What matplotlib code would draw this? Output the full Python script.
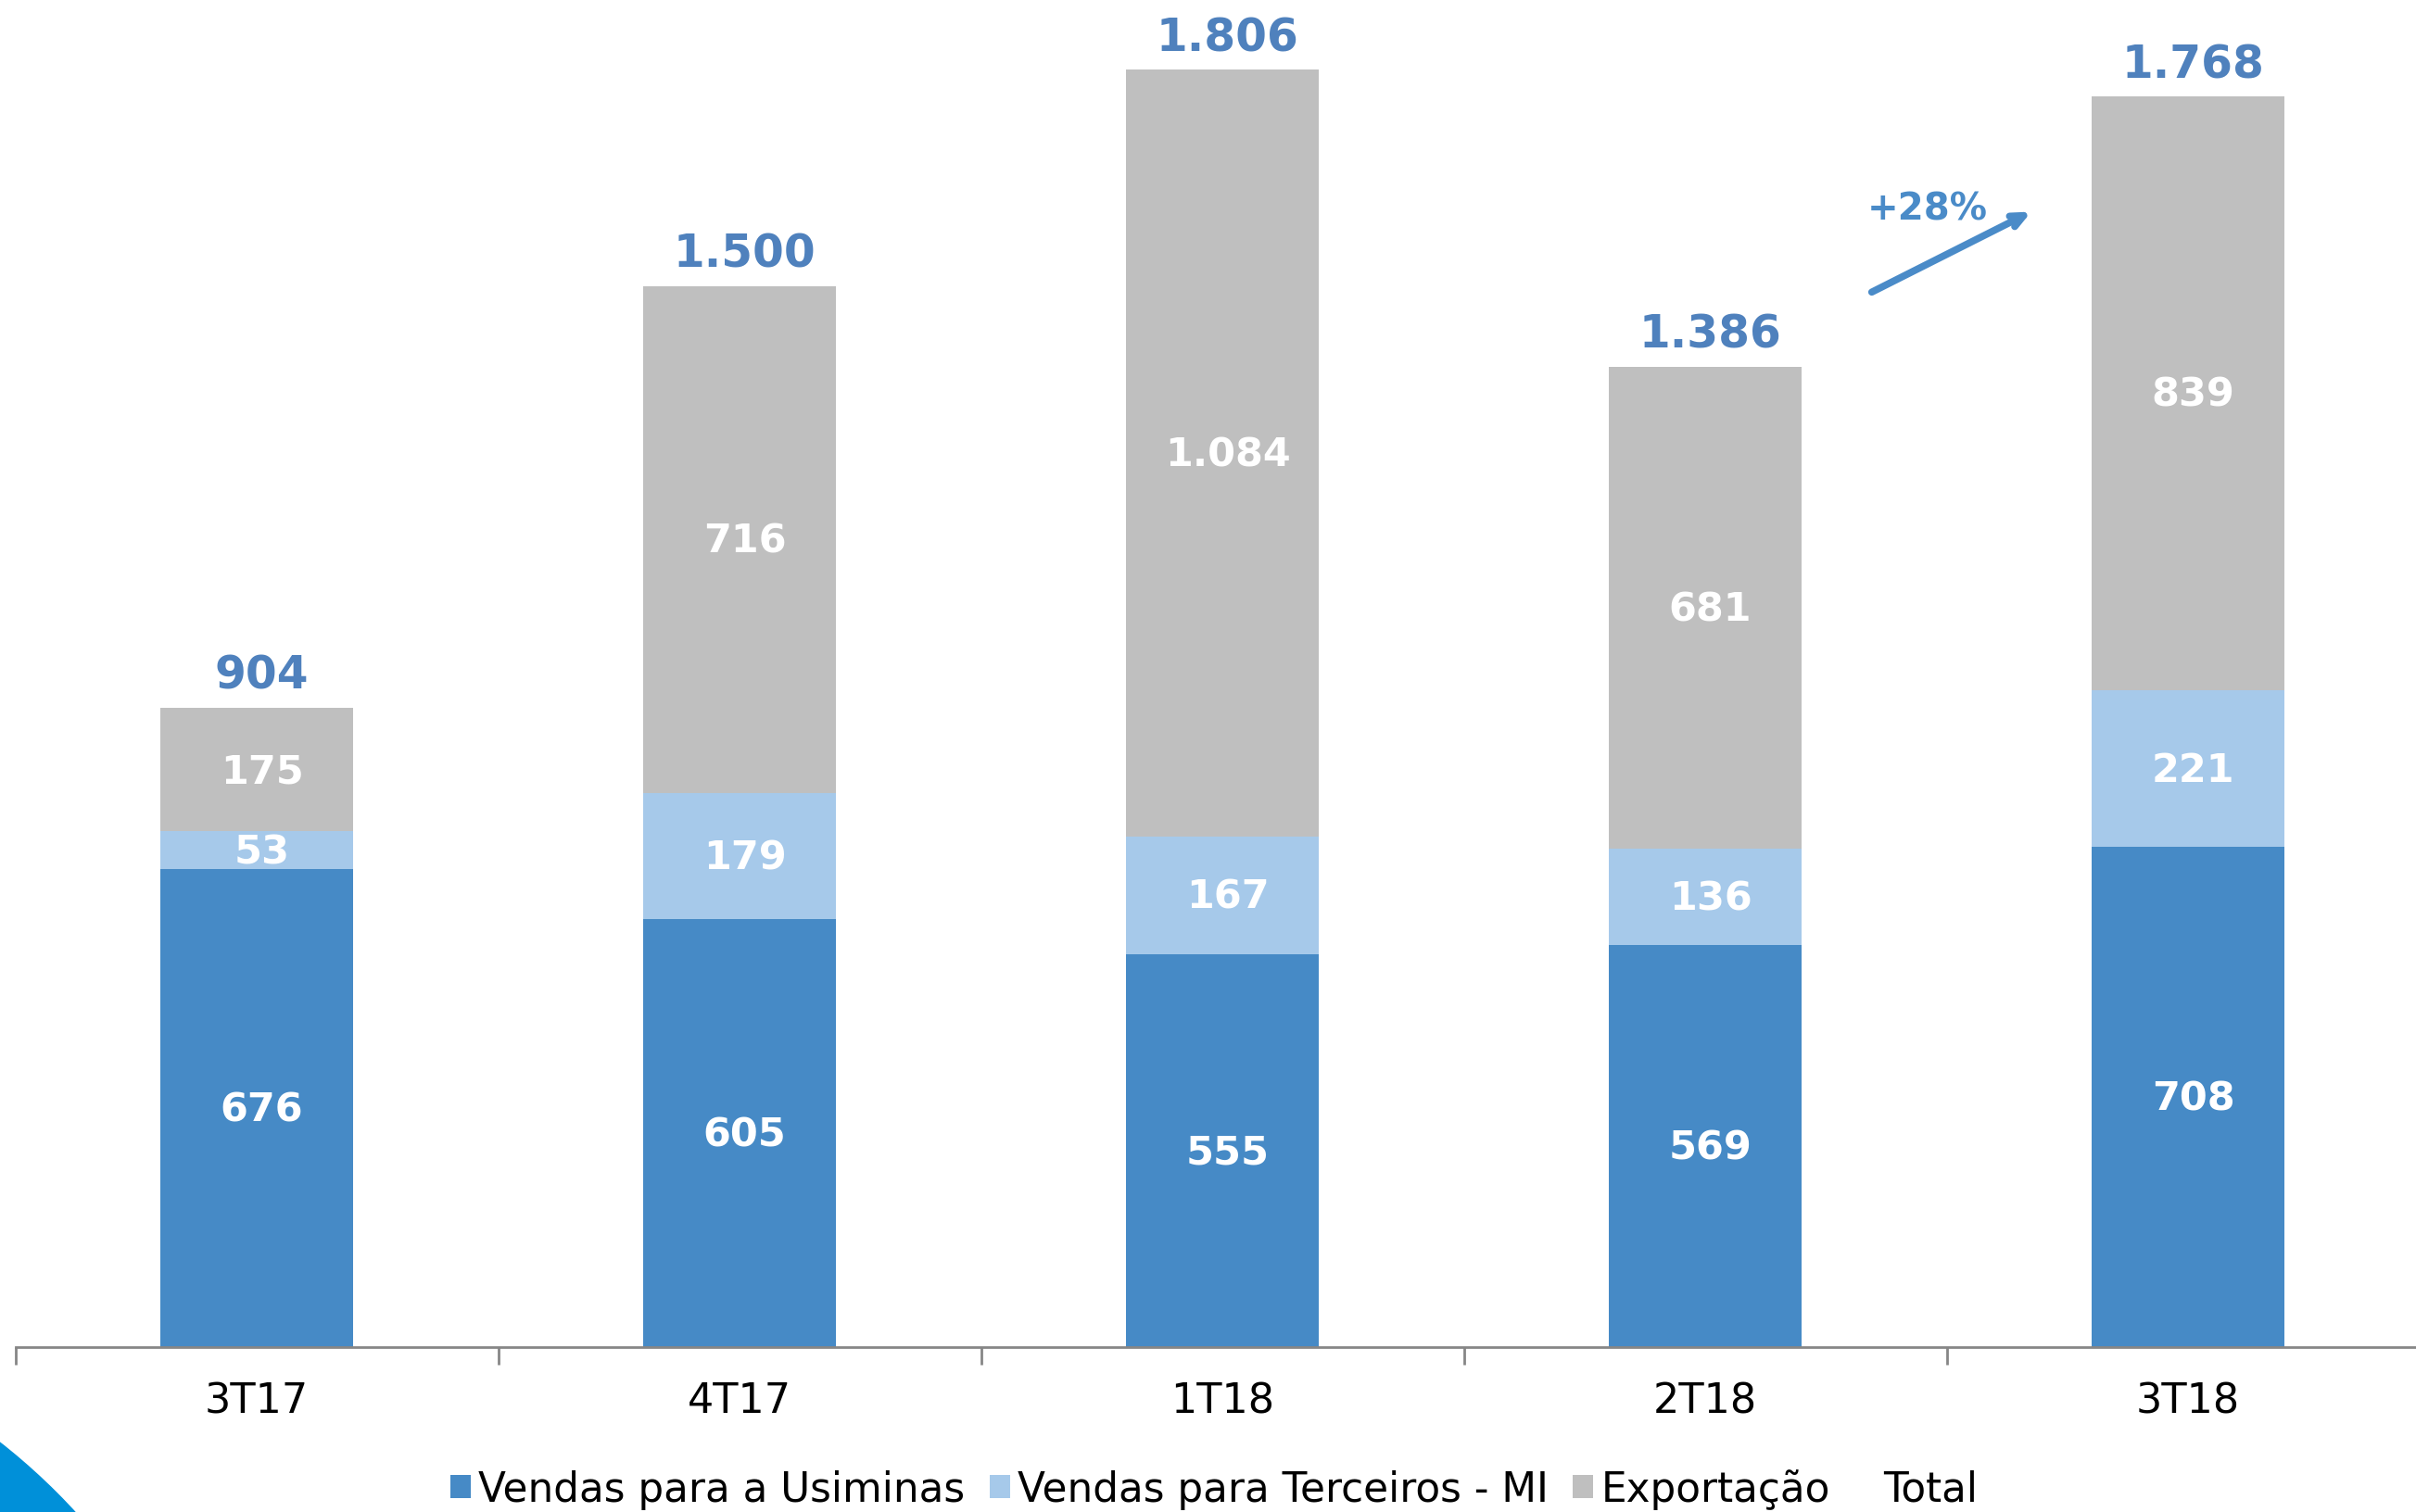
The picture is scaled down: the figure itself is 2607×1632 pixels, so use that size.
import matplotlib.pyplot as plt
import matplotlib.patches as mpatches
import numpy as np

quarters = ['3T17', '4T17', '1T18', '2T18', '3T18']
usiminas = [676, 605, 555, 569, 708]
terceiros = [53, 179, 167, 136, 221]
exportacao = [175, 716, 1084, 681, 839]
totals = [904, 1500, 1806, 1386, 1768]

c_usi = '#468ac6'
c_ter = '#a6c9ea'
c_exp = '#bfbfbf'
c_tot = '#4f81bd'


def fmt(v):
    # thousands separator in pt-BR style
    return f'{v:,}'.replace(',', '.')


W, H = 2607, 1633
fig = plt.figure(figsize=(W / 100, H / 100), dpi=100)
ax = fig.add_axes([16.6 / W, 1 - 1455 / H, 2605 / W, 1455 / H])

x = np.arange(len(quarters))
bw = 0.40
b1 = ax.bar(x, usiminas, bw, color=c_usi, label='Vendas para a Usiminas')
b2 = ax.bar(x, terceiros, bw, bottom=usiminas, color=c_ter,
            label='Vendas para Terceiros - MI')
bot3 = np.array(usiminas) + np.array(terceiros)
b3 = ax.bar(x, exportacao, bw, bottom=bot3, color=c_exp, label='Exportação')

for bars, vals in [(b1, usiminas), (b2, terceiros), (b3, exportacao)]:
    for rect, v in zip(bars, vals):
        cy = rect.get_y() + rect.get_height() / 2
        ax.annotate(fmt(v), (rect.get_x() + rect.get_width() / 2, cy),
                    xytext=(4, -1), textcoords='offset points',
                    ha='center', va='center', color='white', fontsize=31,
                    fontweight='bold')

for xi, t in zip(x, totals):
    ax.annotate(fmt(t), (xi, t), xytext=(4, 8), textcoords='offset points',
                ha='center', va='bottom', color=c_tot,
                fontsize=35, fontweight='bold')

# growth arrow
ax.annotate('', xy=(3.68, 1607), xytext=(3.34, 1490),
            arrowprops=dict(arrowstyle='->,head_length=1.0,head_width=0.45',
                            color='#4a8bc8', lw=5.5))
ax.text(3.46, 1609, '+28%', ha='center', va='center', color='#4a8bc8',
        fontsize=29, fontweight='bold')

ax.set_xlim(-0.5, 4.5)
ax.set_ylim(0, 1906)
ax.set_yticks([])
for s in ['top', 'right', 'left']:
    ax.spines[s].set_visible(False)
ax.spines['bottom'].set_color('#868686')
ax.spines['bottom'].set_linewidth(2)
ax.set_xticks(x)
ax.set_xticklabels(quarters, fontsize=32)
ax.set_xticks(np.arange(-0.5, 5, 1), minor=True)
ax.tick_params(axis='x', which='major', length=0, pad=26)
ax.tick_params(axis='x', which='minor', length=14, width=2, color='#868686')

total_handle = mpatches.Patch(color='white', label='Total')
ax.legend(handles=[b1, b2, b3, total_handle], loc='center',
          bbox_to_anchor=(1310 / W, 1 - 1608 / H), bbox_transform=fig.transFigure,
          ncol=4, frameon=False, fontsize=31.5, handlelength=0.5,
          handleheight=0.5, handletextpad=0.2, columnspacing=0.6)

# decorative corner shape
fig.patches.append(mpatches.Circle((-420, -460), 680, transform=None,
                                   color='#0090d9', zorder=-1))

fig.savefig('out.png', dpi=100)
